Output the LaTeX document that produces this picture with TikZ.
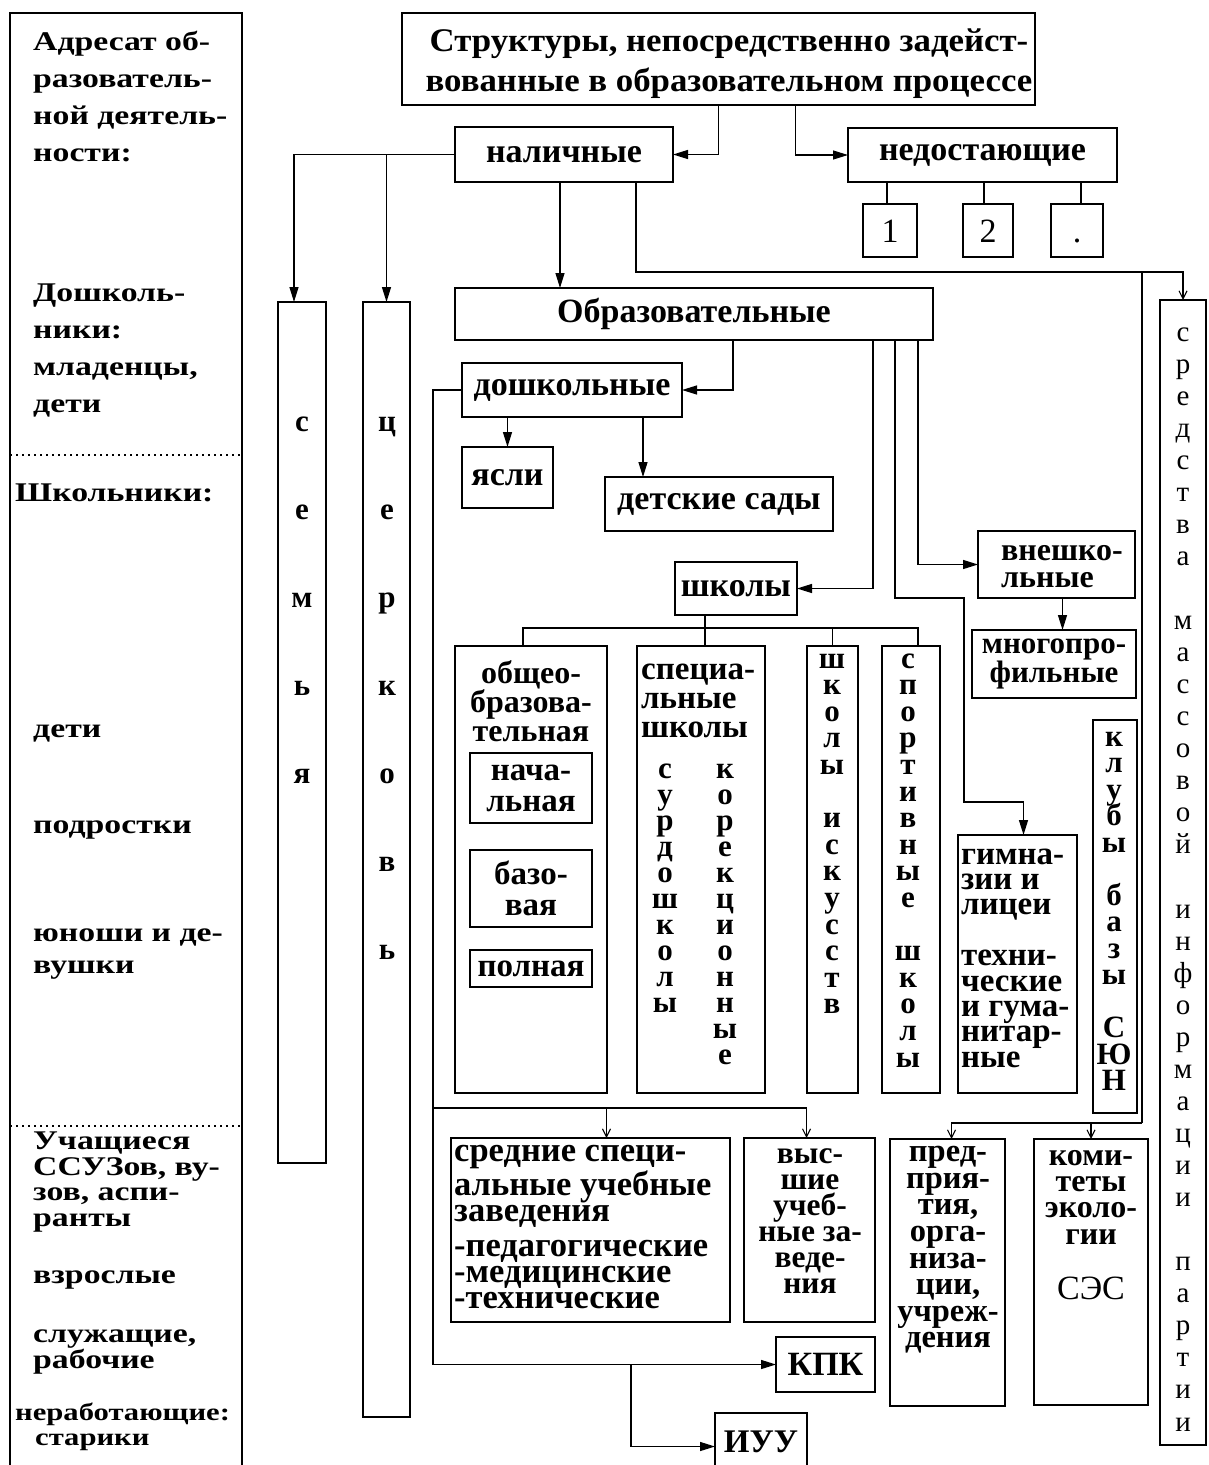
\documentclass[tikz,border=0pt]{standalone}
\usepackage{fontspec}
\setmainfont{Liberation Serif}
\newfontfamily\fwide[FakeStretch=1.25]{Liberation Serif}
\newfontfamily\fst[FakeStretch=1.055]{Liberation Serif}
\usetikzlibrary{arrows.meta,calc}
\newcommand\fsz[2]{\fontsize{#1}{#2}\selectfont}
\newcommand\mkbox[7][]{\node[box,minimum width={#5-#3},minimum height={#6-#4},#1] (#2) at ({(#3+#5)/2},{(#4+#6)/2}) {#7};}
\begin{document}
\begin{tikzpicture}[x=1pt,y=-1pt,
 box/.style={draw,line width=1.6pt,inner sep=0pt,outer sep=0pt,align=center,font=\bfseries\fsz{34}{36}},
 ln/.style={line width=1.3pt},
 arr/.style={line width=1.3pt,-{Triangle[length=15pt,width=9pt]}},
 arrS/.style={line width=1.1pt,-{Straight Barb[length=8pt,width=8pt]}},
 txt/.style={inner sep=0pt,align=center,font=\bfseries\fsz{33}{36}},
 lft/.style={inner sep=0pt,anchor=west,align=left,font=\fwide\bfseries\fsz{27}{37}},
 let/.style={inner sep=0pt,anchor=base,font=\bfseries\fsz{31}{31}},
 letR/.style={inner sep=0pt,anchor=base,font=\fsz{29}{29}},
 num/.style={font=\fsz{34}{36},text height=23pt,text depth=0pt},
]
\clip (0,0) rectangle (1208,1465);
% ---------- left column ----------
\mkbox[line width=1.2pt]{adr}{10}{13}{242}{1480}{}
\draw[line width=1.3pt,dash pattern=on 1.5pt off 4.5pt] (adr.west |- 0,455) -- (adr.east |- 0,455);
\draw[line width=1.3pt,dash pattern=on 1.5pt off 4.5pt] (adr.west |- 0,1126) -- (adr.east |- 0,1126);
\node[lft] (lA) at (33,97) {Адресат об-\\разователь-\\ной деятель-\\ности:};
\node[lft] (lB) at (33,350) {Дошколь-\\ники:\\младенцы,\\дети};
\node[lft] (lC) at (15,493) {Школьники:};
\node[lft] (lD) at (33,733) {дети};
\node[lft] (lE) at (33,830) {подростки};
\node[lft,font=\fwide\bfseries\fsz{27}{32}] (lF) at (33,954) {юноши и де-\\вушки};
\node[lft,font=\fwide\bfseries\fsz{27}{25.5}] (lG) at (33,1182) {Учащиеся\\ССУЗов, ву-\\зов, аспи-\\ранты};
\node[lft] (lH) at (33,1280) {взрослые};
\node[lft,font=\fwide\bfseries\fsz{27}{25}] (lI) at (33,1352) {служащие,\\рабочие};
\node[lft,font=\fwide\bfseries\fsz{24.5}{25}] (lJ) at (15,1427) {неработающие:\\\hspace*{20pt}старики};
% ---------- top ----------
\mkbox{struct}{402}{13}{1035}{105}{}
\node[txt,font=\fst\bfseries\fsz{33}{40}] (tStruct) at (729,64) {Структуры, непосредственно задейст-\\вованные в образовательном процессе};
\mkbox{nal}{455}{127}{673}{182}{наличные}
\mkbox{ned}{848}{128}{1117}{182}{недостающие}
\mkbox[num]{bA}{863}{204}{917}{257}{1}
\mkbox[num]{bB}{963}{204}{1013}{257}{2}
\mkbox[num]{bC}{1051}{204}{1103}{257}{.}
\draw[arr] (struct.south) |- (nal.east);
\draw[arr] ([xshift=77]struct.south) |- (ned.west);
\draw[ln] ([xshift=-3]bA.north |- ned.south) -- ([xshift=-3]bA.north);
\draw[ln] ([xshift=-4]bB.north |- ned.south) -- ([xshift=-4]bB.north);
\draw[ln] ([xshift=4]bC.north |- ned.south) -- ([xshift=4]bC.north);
% ---------- family / church ----------
\mkbox{semya}{278}{302}{326}{1163}{}
\mkbox[line width=2.2pt]{cerk}{363}{302}{410}{1417}{}
\draw[arr] (nal.west) -| ([xshift=-8]semya.north);
\draw[arr] (cerk.north |- nal.west) -- (cerk.north);
\foreach \c/\p in {с/0,е/1,м/2,ь/3,я/4} \node[let] (sem\p) at (302,{431+88*\p}) {\c};
\foreach \c/\p in {ц/0,е/1,р/2,к/3,о/4,в/5,ь/6} \node[let] (cer\p) at (387,{431+88*\p}) {\c};
% ---------- mass media ----------
\mkbox{sredstva}{1160}{300}{1206}{1445}{}
\foreach \c/\p in {с/0,р/1,е/2,д/3,с/4,т/5,в/6,а/7,м/9,а/10,с/11,с/12,о/13,в/14,о/15,й/16,и/18,н/19,ф/20,о/21,р/22,м/23,а/24,ц/25,и/26,и/27,п/29,а/30,р/31,т/32,и/33,и/34}
  \node[letR] (sr\p) at (1183,{341+32.06*\p}) {\c};
\draw[arrS] ([xshift=72]nal.south) -- ++(0,90) -| (sredstva.north);
\coordinate (jR) at (1142,272);
\coordinate (jB) at (1142,1123);
% ---------- educational ----------
\mkbox{obr}{455}{288}{933}{340}{Образовательные}
\draw[arr] ([xshift=-4]nal.south) -- ([xshift=-4]nal.south |- obr.north);
\mkbox{dosh}{462}{363}{682}{417}{дошкольные}
\mkbox{yasli}{462}{447}{553}{508}{ясли}
\mkbox{sady}{605}{477}{833}{531}{детские сады}
\draw[arr] ([xshift=39]obr.south) |- (dosh.east);
\draw[arr] (yasli.north |- dosh.south) -- (yasli.north);
\draw[arr] ([xshift=-76]sady.north |- dosh.south) -- ([xshift=-76]sady.north);
\mkbox{shk}{675}{562}{797}{615}{школы}
\draw[arr] ([xshift=179]obr.south) |- (shk.east);
\mkbox{vnesh}{978}{531}{1135}{598}{}
\node[txt,anchor=west,align=left,font=\bfseries\fsz{32}{27}] (tVnesh) at (1001,567) {внешко-\\льные};
\draw[arr] ([xshift=224]obr.south) |- (vnesh.west);
\mkbox[font=\bfseries\fsz{31}{24}]{mnogo}{972}{630}{1136}{698}{многопро-\\фильные}
\draw[arr] ([xshift=6]vnesh.south) -- ([xshift=6]vnesh.south |- mnogo.north);
% schools
\mkbox{obsh}{455}{646}{607}{1093}{}
\node[txt,font=\bfseries\fsz{32}{29}] (tObsh) at (531,701) {общео-\\бразова-\\тельная};
\mkbox[font=\bfseries\fsz{33}{31}]{nach}{470}{753}{592}{823}{нача-\\льная}
\mkbox[font=\bfseries\fsz{33}{31}]{baz}{470}{850}{592}{927}{базо-\\вая}
\mkbox[font=\bfseries\fsz{33}{31}]{poln}{470}{950}{592}{987}{полная}
\mkbox{spec}{637}{646}{765}{1093}{}
\node[txt,anchor=west,align=left,font=\bfseries\fsz{33}{29}] (tSpec) at (641,701) {специа-\\льные\\школы};
\foreach \c [count=\i from 0] in {с,у,р,д,о,ш,к,о,л,ы} \node[let] (su\i) at (665,{778+26*\i}) {\c};
\foreach \c [count=\i from 0] in {к,о,р,е,к,ц,и,о,н,н,ы,е} \node[let] (ko\i) at (725,{778+26*\i}) {\c};
\mkbox{isk}{807}{646}{858}{1093}{}
\foreach \c/\p in {ш/0,к/1,о/2,л/3,ы/4,и/6,с/7,к/8,у/9,с/10,с/11,т/12,в/13} \node[let] (is\p) at (832,{668+26.6*\p}) {\c};
\mkbox{sport}{882}{646}{940}{1093}{}
\foreach \c/\p in {с/0,п/1,о/2,р/3,т/4,и/5,в/6,н/7,ы/8,е/9,ш/11,к/12,о/13,л/14,ы/15} \node[let] (sp\p) at (908,{668+26.6*\p}) {\c};
\draw[ln] ([xshift=-31]shk.south) -- ++(0,13) coordinate (barM);
\draw[ln] ([xshift=-8]obsh.north) |- (barM) -| ([xshift=7]sport.north);
\draw[ln] ([xshift=4]spec.north) -- ([xshift=4]spec.north |- barM);
\draw[ln] (isk.north) -- (isk.north |- barM);
% gymnasia
\mkbox{gimn}{958}{835}{1077}{1093}{}
\node[txt,anchor=west,align=left,font=\bfseries\fsz{33}{25.4}] (tGimn) at (961,958) {гимна-\\зии и\\лицеи\\[25.4pt]техни-\\ческие\\и гума-\\нитар-\\ные};
\draw[arr] ([xshift=201]obr.south) -- ++(0,258) -- ++(69,0) -- ++(0,204) -| ([xshift=6]gimn.north);
% clubs
\mkbox{kluby}{1093}{720}{1137}{1113}{}
\foreach \c/\p in {к/0,л/1,у/2,б/3,ы/4,б/6,а/7,з/8,ы/9,С/11,Ю/12,Н/13} \node[let] (kl\p) at (1114,{746+26.5*\p}) {\c};
% ---------- bottom row ----------
\mkbox{sred}{451}{1138}{730}{1322}{}
\node[txt,anchor=west,align=left,font=\bfseries\fsz{34.5}{26}] (tSred) at (454,1227) {средние специ-\\альные учебные\\заведения\\[9pt]-педагогические\\-медицинские\\-технические};
\mkbox{vys}{744}{1138}{875}{1322}{}
\node[txt,font=\bfseries\fsz{31.5}{26}] (tVys) at (810,1221) {выс-\\шие\\учеб-\\ные за-\\веде-\\ния};
\mkbox{predp}{890}{1139}{1005}{1406}{}
\node[txt,font=\bfseries\fsz{32.5}{26.6}] (tPredp) at (948,1250) {пред-\\прия-\\тия,\\орга-\\низа-\\ции,\\учреж-\\дения};
\mkbox{komit}{1034}{1139}{1148}{1405}{}
\node[txt,font=\bfseries\fsz{32}{26.3}] (tKomit) at (1091,1197) {коми-\\теты\\эколо-\\гии};
\node[txt,font=\fsz{34}{36}] (tSES) at (1091,1288) {СЭС};
\mkbox{kpk}{776}{1337}{875}{1392}{КПК}
\mkbox{iuu}{715}{1413}{807}{1480}{}
\node[txt] (tIUU) at (761,1442) {ИУУ};
% right-side feed
\draw[ln] (jR) -- (jB);
\draw[arrS] (jB) -| ([xshift=4]predp.north);
\draw[arrS] (komit.north |- jB) -- (komit.north);
% left feed from preschool
\draw[arr] (dosh.west) -- ++(-29,0) coordinate (jL) |- (kpk.west);
\draw[arrS] (jL |- 0,1108) -| ([xshift=-3]vys.north);
\draw[arrS] ([xshift=16]sred.north |- 0,1108) -- ([xshift=16]sred.north);
\coordinate (jK) at (631,0);
\draw[arr] (jK |- kpk.west) |- (iuu.west);
\end{tikzpicture}
\end{document}
